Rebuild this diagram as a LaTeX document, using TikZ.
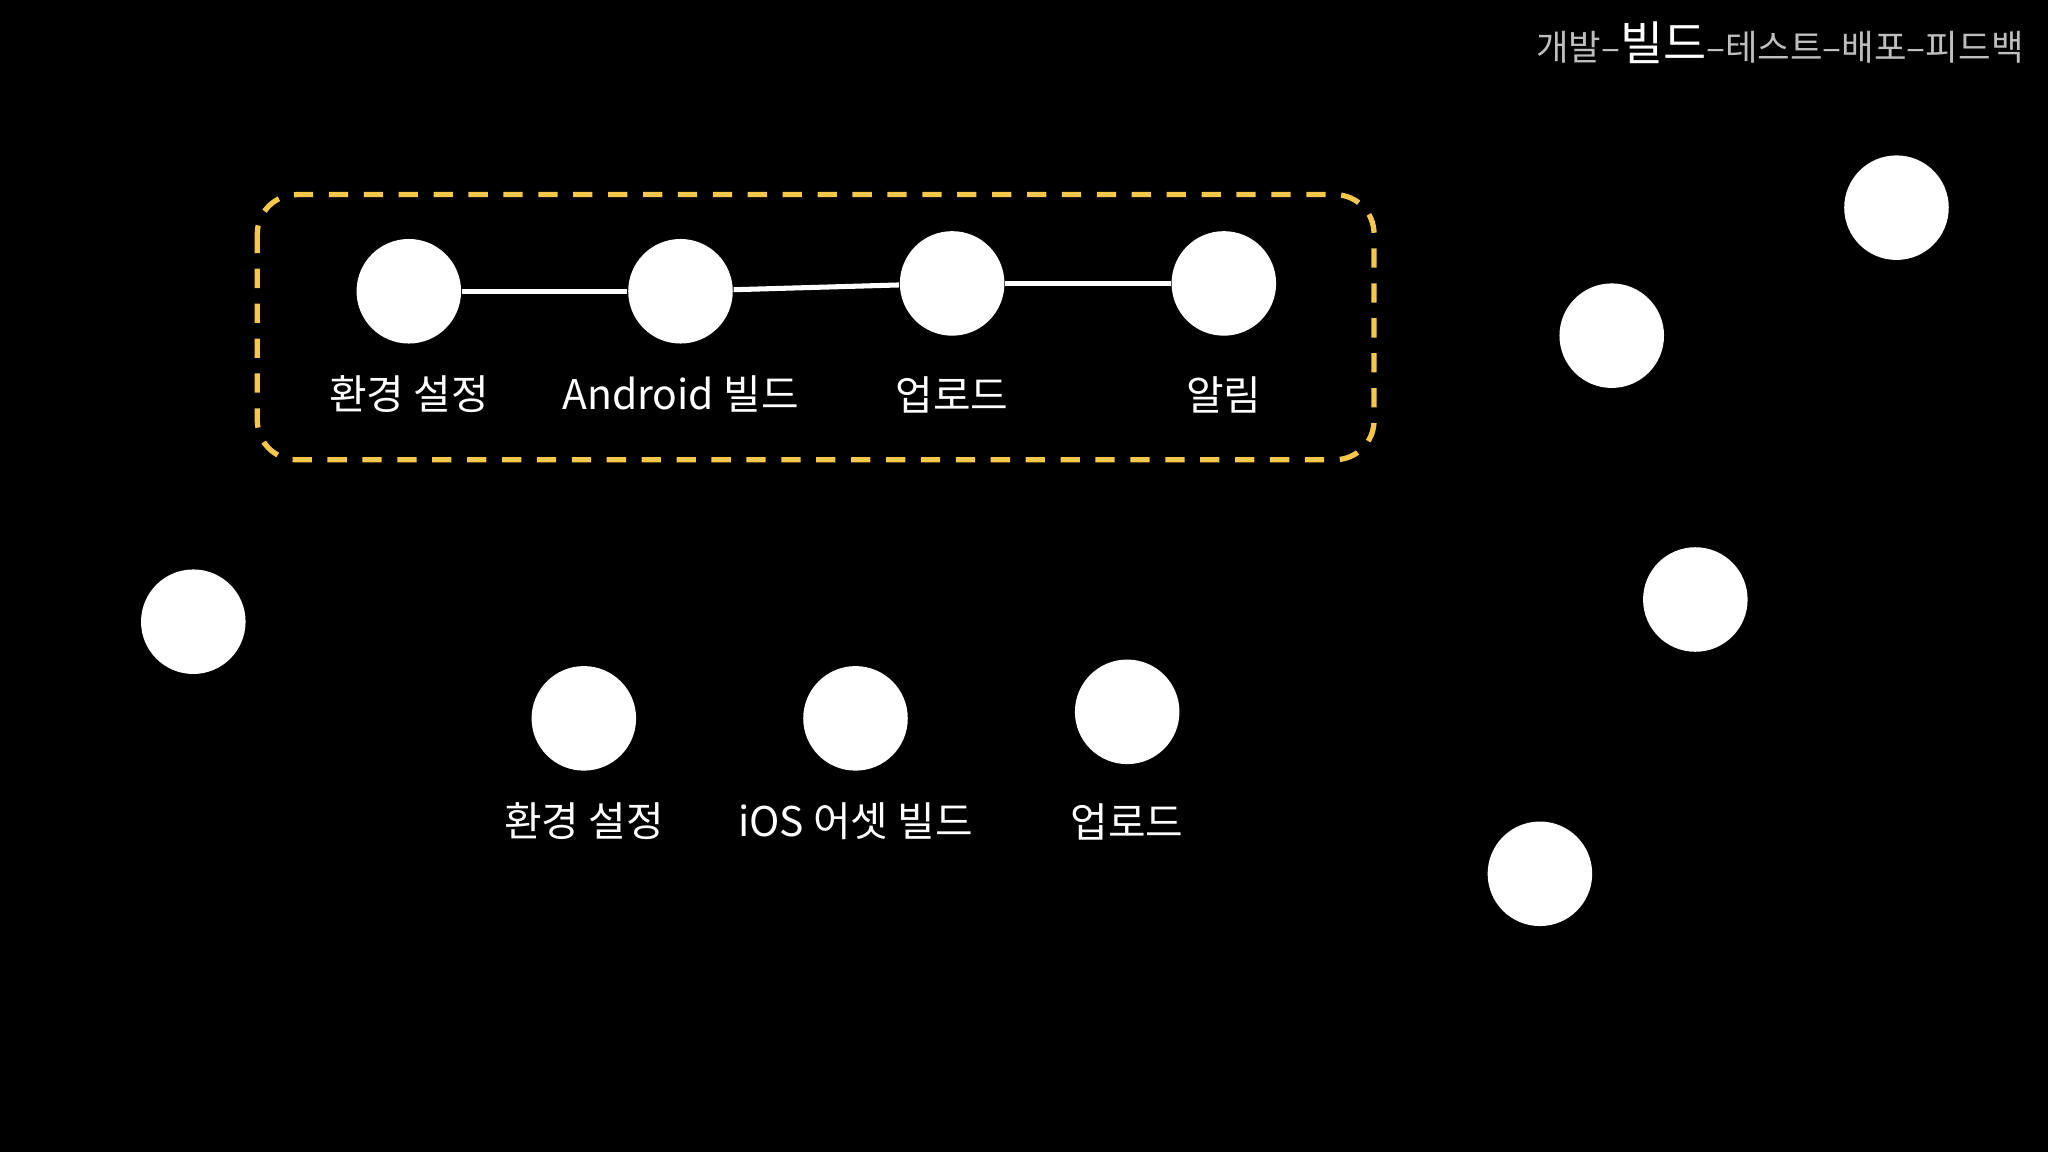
\documentclass[tikz,border=0pt]{standalone}
\usepackage{fontspec}
\newfontfamily\kr{Noto Sans CJK KR}
\begin{document}
\begin{tikzpicture}[x=0.01cm,y=-0.01cm,
  dot/.style={circle,fill=white,minimum size=0.8cm,inner sep=0pt},
  lbl/.style={text=white,font=\kr\fontsize{8.9}{10}\selectfont,inner sep=0pt},
  link/.style={white,line width=1.1pt}]
\fill[black] (0,0) rectangle (1568,882);
\useasboundingbox (0,0) rectangle (1568,882);
\draw[color={rgb,255:red,245;green,200;blue,76},line width=1.15pt,dash pattern=on 4.2pt off 3.4pt,rounded corners=0.3cm] (197,149) rectangle (1052,352);
\node[dot] (a1) at (313,223) {};
\node[dot] (a2) at (521,223) {};
\node[dot] (a3) at (729,217) {};
\node[dot] (a4) at (937,217) {};
\draw[link] (a1) -- (a2);
\draw[link] (a2) -- (a3);
\draw[link] (a3) -- (a4);
\node[lbl] (la1) at (313,302) {환경 설정};
\node[lbl] (la2) at (521,302) {Android 빌드};
\node[lbl] (la3) at (729,302) {업로드};
\node[lbl] (la4) at (937,302) {알림};
\node[dot] (b1) at (447,550) {};
\node[dot] (b2) at (655,550) {};
\node[dot] (b3) at (863,545) {};
\node[lbl] (lb1) at (447,629) {환경 설정};
\node[lbl] (lb2) at (655,629) {iOS 어셋 빌드};
\node[lbl] (lb3) at (863,629) {업로드};
\node[dot] (c1) at (1452,159) {};
\node[dot] (c2) at (1234,257) {};
\node[dot] (c3) at (148,476) {};
\node[dot] (c4) at (1298,459) {};
\node[dot] (c5) at (1179,669) {};
\node[anchor=east,inner sep=0pt,text={rgb,255:red,190;green,190;blue,190},font=\kr\fontsize{7.7}{9}\selectfont] (title) at (1550,33) {개발–{\color{white}\fontsize{10.2}{12}\selectfont 빌드}–테스트–배포–피드백};
\end{tikzpicture}
\end{document}
